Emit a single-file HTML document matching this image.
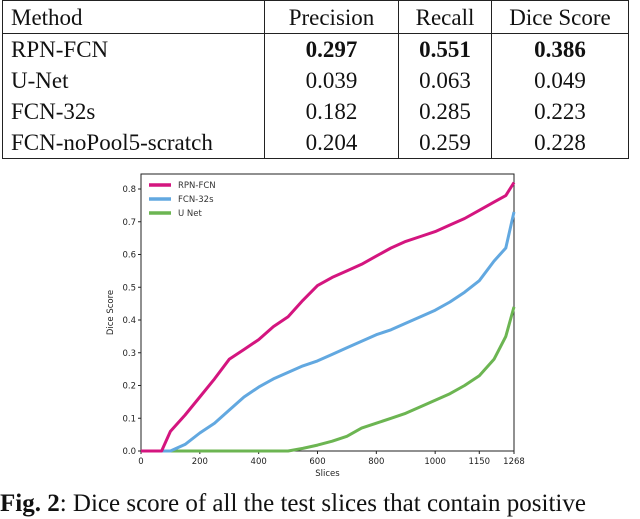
<!DOCTYPE html>
<html><head><meta charset="utf-8"><style>
body{margin:0;width:640px;height:498px;overflow:hidden;background:#fff;position:relative;font-family:"Liberation Serif",serif}
table{position:absolute;left:2px;top:0;border-collapse:collapse;font-size:23px;color:#111}
td{border-left:1.5px solid #222;border-right:1.5px solid #222;padding:0 8px;height:31px;line-height:31px;text-align:center}
td:first-child{text-align:left;width:245px}
tr.h td{border-bottom:1.5px solid #222;border-top:1.5px solid #222;height:32px}
tr.last td{border-bottom:1.5px solid #222}
.c1{width:117px}.c2{width:76px}.c3{width:120px}
#cap{position:absolute;left:0;top:489px;font-size:25px;line-height:30px;white-space:nowrap;color:#111}
</style></head><body>
<table>
<tr class="h"><td>Method</td><td class="c1">Precision</td><td class="c2">Recall</td><td class="c3">Dice Score</td></tr>
<tr><td>RPN-FCN</td><td><b>0.297</b></td><td><b>0.551</b></td><td><b>0.386</b></td></tr>
<tr><td>U-Net</td><td>0.039</td><td>0.063</td><td>0.049</td></tr>
<tr><td>FCN-32s</td><td>0.182</td><td>0.285</td><td>0.223</td></tr>
<tr class="last"><td>FCN-noPool5-scratch</td><td>0.204</td><td>0.259</td><td>0.228</td></tr>
</table>
<svg id="chart" width="640" height="498" style="position:absolute;left:0;top:0" font-family="DejaVu Sans, sans-serif"></svg>
<div id="cap"><b>Fig. 2</b>: Dice score of all the test slices that contain positive</div>
<script>
const xs = [0,70,100,150,200,250,300,350,400,450,500,550,600,650,700,750,800,850,900,950,1000,1050,1100,1150,1200,1240,1268];
const rpn = [0,0,0.06,0.11,0.165,0.22,0.28,0.31,0.34,0.38,0.41,0.46,0.505,0.53,0.55,0.57,0.595,0.62,0.64,0.655,0.67,0.69,0.71,0.735,0.76,0.78,0.82];
const fcn = [0,0,0,0.02,0.055,0.085,0.125,0.165,0.195,0.22,0.24,0.26,0.275,0.295,0.315,0.335,0.355,0.37,0.39,0.41,0.43,0.455,0.485,0.52,0.58,0.62,0.73];
const unet = [0,0,0,0,0,0,0,0,0,0,0,0.008,0.018,0.03,0.045,0.07,0.085,0.1,0.115,0.135,0.155,0.175,0.2,0.23,0.28,0.35,0.44];
const yTicks = [0,0.1,0.2,0.3,0.4,0.5,0.6,0.7,0.8];
const xTicks = [0,200,400,600,800,1000,1150,1268];
const seriesNames = ["RPN-FCN","FCN-32s","U Net"];
const L=141,R=514,T=174,B=451;
const sx=v=>L+(v/1268)*(R-L);
const sy=v=>B-(v/0.8)*262;
const svg=document.getElementById('chart');
const NS='http://www.w3.org/2000/svg';
function mk(t,a){const e=document.createElementNS(NS,t);for(const k in a)e.setAttribute(k,a[k]);svg.appendChild(e);return e;}
const fr=mk('rect',{x:L,y:T,width:R-L,height:B-T,fill:'none',stroke:'#222','stroke-width':1});


yTicks.forEach(v=>{
  const l=mk('line',{x1:L-3,x2:L,y1:sy(v),y2:sy(v),stroke:'#222'});
  
  
  const t=mk('text',{x:L-5,y:sy(v)+3,'font-size':8.5,'text-anchor':'end',fill:'#222'});t.textContent=v.toFixed(1);
  
  
});
xTicks.forEach(v=>{
  const l=mk('line',{x1:sx(v),x2:sx(v),y1:B,y2:B+3,stroke:'#222'});
  
  
  const t=mk('text',{x:sx(v),y:B+13,'font-size':8.5,'text-anchor':'middle',fill:'#222'});t.textContent=v;
  
  
});
const xt=mk('text',{x:(L+R)/2,y:476,'font-size':8.5,'text-anchor':'middle',fill:'#222'});xt.textContent='Slices';


const yt=mk('text',{x:0,y:0,'font-size':8.5,'text-anchor':'middle',fill:'#222',transform:`translate(113,${(T+B)/2}) rotate(-90)`});yt.textContent='Dice Score';


const cols=['#d4157f','#62a8e0','#6cb552'];
const data=[rpn,fcn,unet];
[2,1,0].forEach(i=>{
  const d=xs.map((x,j)=>(j?'L':'M')+sx(x).toFixed(1)+','+sy(data[i][j]).toFixed(1)).join('');
  const p=mk('path',{d:d,fill:'none',stroke:cols[i],'stroke-width':3,'stroke-linejoin':'round'});
  
  
});
seriesNames.forEach((n,i)=>{
  const y=185+i*14;
  const l=mk('line',{x1:149,x2:171,y1:y,y2:y,stroke:cols[i],'stroke-width':3.5});
  
  
  const t=mk('text',{x:178,y:y+3,'font-size':8.5,fill:'#333'});t.textContent=n;
  
  
});
</script>
</body></html>
